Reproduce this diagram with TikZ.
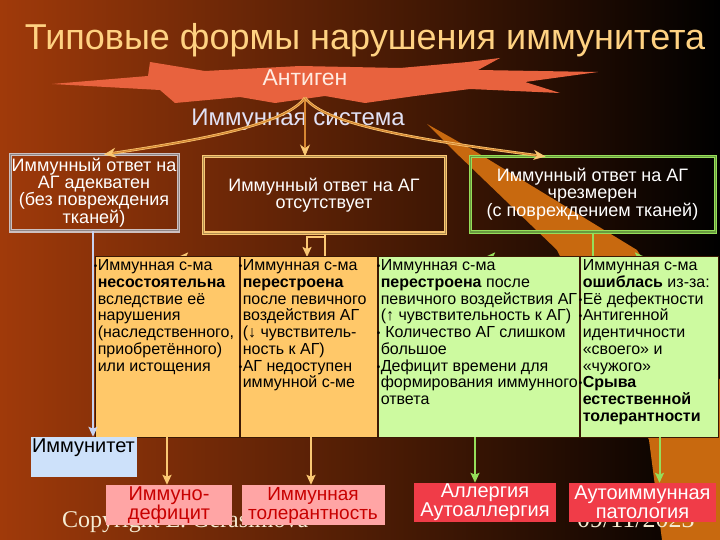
\documentclass[tikz,border=0pt]{standalone}
\usepackage{fontspec}
\setmainfont{Liberation Sans}
\newfontfamily\copyfont{Liberation Serif}
\usetikzlibrary{arrows.meta}

\definecolor{bgleft}{RGB}{160,58,10}
\definecolor{bgmid}{RGB}{85,26,4}
\definecolor{beam}{RGB}{200,105,15}
\definecolor{star}{RGB}{232,98,62}
\definecolor{titlecol}{RGB}{255,210,130}
\definecolor{gold}{RGB}{250,200,115}
\definecolor{greyline}{RGB}{205,192,192}
\definecolor{greenline}{RGB}{150,222,90}
\definecolor{orangecol}{RGB}{255,200,105}
\definecolor{greencol}{RGB}{205,250,160}
\definecolor{lavender}{RGB}{200,210,240}
\definecolor{skycol}{RGB}{205,225,250}
\definecolor{pinkcol}{RGB}{255,165,165}
\definecolor{redcol}{RGB}{240,60,72}
\definecolor{darkred}{RGB}{200,0,0}
\definecolor{sepcol}{RGB}{60,25,5}

\newcommand{\bul}{\makebox[0pt][r]{\fontsize{10}{10}\selectfont\raisebox{1pt}{•}\hspace{0.5pt}}}

\begin{document}
\begin{tikzpicture}[
    x = 1pt, y = -1pt,
    font = \fontsize{16}{16.7}\selectfont,
    topbox/.style = {draw=#1, double=#1!70!black, double distance=1pt,
        line width=1pt, text=white, align=center, inner sep=0pt,
        font=\fontsize{18}{16.8}\selectfont},
    col/.style = {fill=#1, draw=sepcol, line width=0.8pt, inner sep=0pt},
    coltext/.style = {anchor=north west, align=left, text=black, inner sep=1pt},
    endbox/.style = {fill=#1, inner sep=0pt, align=center,
        font=\fontsize{20}{19}\selectfont},
    goldarrow/.style = {draw=gold, double={rgb,255:red,215;green,135;blue,50},
        double distance=1.2pt, line width=0.7pt, -{Stealth[length=12pt, width=10pt]}},
    down/.style = {draw=#1, line width=2pt, -{Stealth[length=10pt, width=9pt, inset=2pt]}}
]

% Background
\fill[left color=bgleft, middle color=bgmid, right color=black] (0,0) rectangle (720,540);
\fill[beam] (427,124) -- (473,150) -- (637,250) -- (720,380) -- (720,540)
    -- (662,540) -- (649,440) -- (557,250) -- (453,150) -- cycle;
\fill[star] (52,84) -- (148,76) -- (150,62) -- (205,71) -- (300,66) -- (400,68)
    -- (468,62) -- (500,58) -- (478,70) -- (598,72) -- (525,82) -- (560,93)
    -- (470,89) -- (415,96) -- (365,103) -- (325,96) -- (275,103) -- (240,97)
    -- (175,103) -- (160,90) -- cycle;

% Title and antigen
\node[text=titlecol, font=\fontsize{36}{36}\selectfont, anchor=base] (0) at (365,50)
    {Типовые формы нарушения иммунитета};
\node[text={rgb,255:red,255;green,235;blue,225}, font=\fontsize{23}{23}\selectfont,
    anchor=base] (1) at (305,86) {Антиген};
\node[text={rgb,255:red,225;green,225;blue,245}, font=\fontsize{24}{24}\selectfont,
    anchor=base] (2) at (298,126) {Иммунная система};

% Responses
\node[topbox=greyline, minimum width=168pt, minimum height=76pt] (3) at (94,193)
    {Иммунный ответ на\\АГ адекватен\\(без повреждения\\тканей)};
\node[topbox=gold, minimum width=242pt, minimum height=76pt] (4) at (324,195)
    {Иммунный ответ на АГ\\отсутствует};
\node[topbox=greenline, minimum width=245pt, minimum height=75pt] (5) at (592.5,194.5)
    {Иммунный ответ на АГ\\чрезмерен\\(с повреждением тканей)};

\draw[goldarrow] ([yshift=-8pt]1.south) .. controls (285,125) and (200,140) .. ([xshift=10pt]3.north);
\draw[goldarrow] ([yshift=-8pt]1.south) -- ([xshift=-19pt]4.north);
\draw[goldarrow] ([yshift=-8pt]1.south) .. controls (325,125) and (420,140) .. ([xshift=-47pt]5.north);

% Branches behind the columns
\coordinate (c1) at (178,257);
\coordinate (c2) at (307,257);
\coordinate (c3) at (485,257);
\coordinate (c4) at (645,257);
\draw[down=gold] ([xshift=1pt]4.south) |- (c1);
\draw[down=gold] ([xshift=1pt,yshift=-3pt]4.south) -| (c2);
\draw[down=greenline] (5.south) |- (c3);
\draw[down=greenline] (5.south) |- (c4);

% Columns
\node[col=orangecol, minimum width=144pt, minimum height=181pt] (6) at (167,346.5) {};
\node[col=orangecol, minimum width=137pt, minimum height=181pt] (7) at (308.5,346.5) {};
\node[col=greencol, minimum width=201pt, minimum height=181pt] (8) at (478.5,346.5) {};
\node[col=greencol, minimum width=138pt, minimum height=181pt] (9) at (649,346.5) {};

\node[coltext] (10) at ([xshift=2pt,yshift=-3pt]6.north west)
    {\bul Иммунная с-ма\\\textbf{несостоятельна}\\вследствие её\\нарушения\\(наследственного,\\приобретённого)\\или истощения};
\node[coltext] (11) at ([xshift=2pt,yshift=-3pt]7.north west)
    {\bul Иммунная с-ма\\\textbf{перестроена}\\после певичного\\воздействия АГ\\(↓ чувствитель-\\ность к АГ)\\\bul АГ недоступен\\иммунной с-ме};
\node[coltext] (12) at ([xshift=2pt,yshift=-3pt]8.north west)
    {\bul Иммунная с-ма\\\textbf{перестроена} после\\певичного воздействия АГ\\(↑ чувствительность к АГ)\\\bul\ Количество АГ слишком\\большое\\\bul Дефицит времени для\\формирования иммунного\\ответа};
\node[coltext] (13) at ([xshift=2pt,yshift=-3pt]9.north west)
    {Иммунная с-ма\\\textbf{ошиблась} из-за:\\\bul Её дефектности\\\bul Антигенной\\идентичности\\«своего» и\\«чужого»\\\bul\textbf{Срыва}\\\textbf{естественной}\\\textbf{толерантности}};

% Footer
\node[text={rgb,255:red,245;green,235;blue,210}, font=\copyfont\fontsize{24}{24}\selectfont,
    anchor=base west, inner sep=0pt] (14) at (62,527) {Copyright E. Gerasimova};
\node[text={rgb,255:red,245;green,235;blue,210}, font=\copyfont\fontsize{26}{26}\selectfont,
    anchor=base west, inner sep=0pt] (15) at (577,527) {09/11/2023};

% Outcomes
\node[endbox=skycol, minimum width=106pt, minimum height=40pt] (16) at (84,457) {};
\node[anchor=north west, inner sep=1pt, font=\fontsize{20}{20}\selectfont] (17)
    at ([yshift=-1pt]16.north west) {Иммунитет};
\node[endbox=pinkcol, text=darkred, minimum width=126pt, minimum height=40pt] (18) at (169,505)
    {Иммуно-\\дефицит};
\node[endbox=pinkcol, text=darkred, minimum width=143pt, minimum height=40pt,
    font=\fontsize{19}{19}\selectfont] (19) at (313,505)
    {Иммунная\\толерантность};
\node[endbox=redcol, text=white, minimum width=142pt, minimum height=39pt] (20) at (485,502.5)
    {Аллергия\\Аутоаллергия};
\node[endbox=redcol, text=white, minimum width=147pt, minimum height=39pt] (21) at (642.5,502.5)
    {Аутоиммунная\\патология};

\draw[down=lavender] ([xshift=-1pt]3.south) -- ([xshift=-1pt]3.south |- 16.north);
\draw[down=gold] (6.south -| 18.north) ++(-2,0) -- ([xshift=-2pt]18.north);
\draw[down=gold] (7.south -| 19.north) ++(-2,0) -- ([xshift=-2pt]19.north);
\draw[down=greenline] (8.south -| 20.north) ++(-10,0) -- ([xshift=-10pt]20.north);
\draw[down=greenline] (9.south -| 21.north) ++(17,0) -- ([xshift=17pt]21.north);

\end{tikzpicture}
\end{document}
